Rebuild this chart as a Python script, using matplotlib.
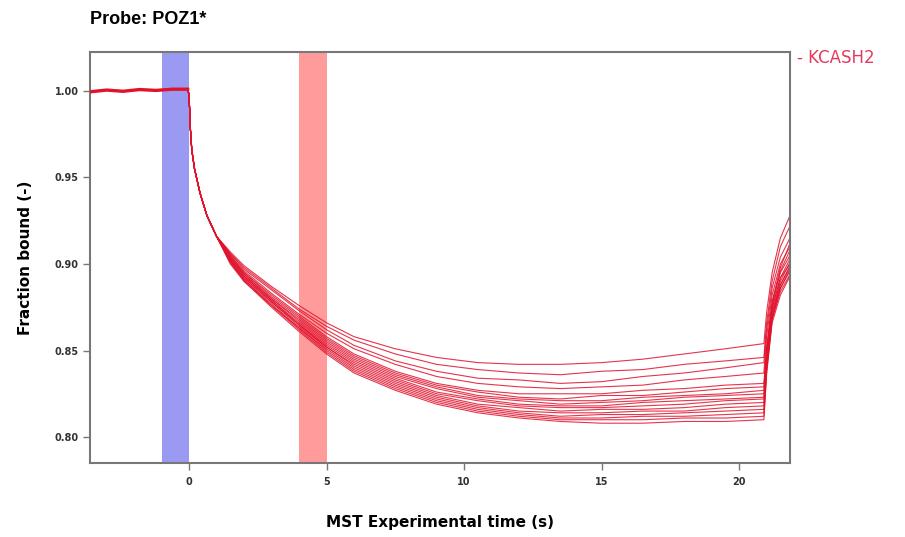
import numpy as np
import matplotlib
matplotlib.use("Agg")
import matplotlib.pyplot as plt

# shared part of every trace: baseline, then the fast drop after the IR laser turns on
early_t = [-3.6, -3.0, -2.4, -1.8, -1.2, -0.6, -0.05, 0.0, 0.05, 0.1, 0.2, 0.4, 0.65, 1.0]
early_y = [0.9995, 1.0005, 0.9998, 1.0008, 1.0003, 1.0010, 1.0010, 0.998, 0.978, 0.966,
           0.955, 0.941, 0.928, 0.916]

# slow thermophoresis part, one row per capillary
late_t = [1.5, 2.0, 3.0, 4.0, 5.0, 6.0, 7.5, 9.0, 10.5, 12.0, 13.5, 15.0, 16.5, 18.0, 19.5, 20.9]
late_y = [
    [0.907, 0.899, 0.887, 0.876, 0.866, 0.858, 0.851, 0.846, 0.843, 0.842, 0.842, 0.843, 0.845, 0.848, 0.851, 0.854],
    [0.906, 0.898, 0.886, 0.874, 0.864, 0.856, 0.848, 0.842, 0.839, 0.837, 0.836, 0.838, 0.839, 0.842, 0.844, 0.846],
    [0.906, 0.897, 0.885, 0.873, 0.862, 0.853, 0.844, 0.838, 0.834, 0.833, 0.831, 0.832, 0.835, 0.837, 0.840, 0.843],
    [0.905, 0.896, 0.883, 0.871, 0.860, 0.851, 0.842, 0.835, 0.831, 0.829, 0.828, 0.829, 0.830, 0.833, 0.835, 0.837],
    [0.905, 0.895, 0.882, 0.870, 0.858, 0.848, 0.838, 0.831, 0.827, 0.825, 0.825, 0.825, 0.827, 0.828, 0.830, 0.831],
    [0.904, 0.895, 0.881, 0.869, 0.857, 0.847, 0.837, 0.830, 0.826, 0.823, 0.822, 0.824, 0.824, 0.826, 0.828, 0.829],
    [0.904, 0.894, 0.880, 0.868, 0.856, 0.846, 0.836, 0.829, 0.824, 0.822, 0.821, 0.821, 0.823, 0.824, 0.825, 0.827],
    [0.903, 0.894, 0.880, 0.867, 0.855, 0.845, 0.835, 0.828, 0.823, 0.821, 0.819, 0.820, 0.821, 0.823, 0.824, 0.825],
    [0.903, 0.893, 0.879, 0.866, 0.854, 0.844, 0.834, 0.826, 0.822, 0.819, 0.818, 0.818, 0.820, 0.821, 0.822, 0.823],
    [0.903, 0.893, 0.879, 0.865, 0.853, 0.843, 0.833, 0.825, 0.821, 0.818, 0.817, 0.817, 0.818, 0.819, 0.821, 0.822],
    [0.902, 0.892, 0.878, 0.865, 0.852, 0.842, 0.832, 0.824, 0.819, 0.817, 0.815, 0.816, 0.816, 0.817, 0.819, 0.820],
    [0.902, 0.892, 0.878, 0.864, 0.852, 0.841, 0.831, 0.823, 0.818, 0.815, 0.814, 0.814, 0.815, 0.815, 0.817, 0.818],
    [0.902, 0.891, 0.877, 0.863, 0.851, 0.840, 0.830, 0.822, 0.817, 0.814, 0.812, 0.813, 0.813, 0.814, 0.815, 0.816],
    [0.901, 0.891, 0.876, 0.863, 0.850, 0.839, 0.829, 0.821, 0.816, 0.813, 0.811, 0.811, 0.812, 0.812, 0.813, 0.814],
    [0.901, 0.890, 0.876, 0.862, 0.849, 0.838, 0.828, 0.820, 0.815, 0.812, 0.810, 0.810, 0.810, 0.811, 0.811, 0.812],
    [0.900, 0.890, 0.875, 0.861, 0.848, 0.837, 0.827, 0.819, 0.814, 0.811, 0.809, 0.808, 0.808, 0.809, 0.809, 0.810],
]

# back-diffusion after the laser turns off
jump_t = [21.0, 21.2, 21.5, 21.85]
jump_y = [
    [0.872, 0.895, 0.915, 0.928],
    [0.866, 0.890, 0.910, 0.922],
    [0.862, 0.886, 0.904, 0.915],
    [0.858, 0.882, 0.900, 0.910],
    [0.852, 0.878, 0.895, 0.905],
    [0.850, 0.875, 0.892, 0.900],
    [0.850, 0.878, 0.898, 0.912],
    [0.846, 0.872, 0.888, 0.898],
    [0.846, 0.874, 0.892, 0.903],
    [0.845, 0.876, 0.896, 0.908],
    [0.843, 0.870, 0.886, 0.896],
    [0.842, 0.872, 0.890, 0.901],
    [0.840, 0.868, 0.884, 0.894],
    [0.840, 0.870, 0.888, 0.899],
    [0.838, 0.866, 0.882, 0.893],
    [0.836, 0.868, 0.886, 0.897],
]

cold_region = (-1.0, 0.0)
hot_region = (4.0, 5.0)
x_ticks = [0, 5, 10, 15, 20]
y_ticks = [0.80, 0.85, 0.90, 0.95, 1.00]

line_color = "#e0122c"
grey = "#777777"

fig = plt.figure(figsize=(9.05, 5.37), dpi=100)
ax = fig.add_axes([90 / 905, 1 - 463 / 537, 700 / 905, 411 / 537])

ax.axvspan(*cold_region, color="#9a9af2", lw=0, zorder=1)
ax.axvspan(*hot_region, color="#ff9b9b", lw=0, zorder=1)

for late, jump in zip(late_y, jump_y):
    t = np.concatenate([early_t, late_t, jump_t])
    y = np.concatenate([early_y, late, jump])
    ax.plot(t, y, color=line_color, lw=0.8, alpha=0.85, zorder=2)

# thick, noisy looking baseline where all traces sit on top of each other
ax.plot(early_t[:7], early_y[:7], color=line_color, lw=2.4, zorder=3)

ax.set_xlim(-3.6, 21.85)
ax.set_ylim(0.785, 1.0225)
ax.set_xticks(x_ticks)
ax.set_yticks(y_ticks)
ax.set_xticklabels([str(v) for v in x_ticks])
ax.set_yticklabels([f"{v:.2f}" for v in y_ticks])
ax.tick_params(axis="both", labelsize=7, colors="#333333", length=5, width=1, pad=3)
ax.tick_params(axis="x", pad=5)
for lbl in ax.get_xticklabels() + ax.get_yticklabels():
    lbl.set_fontweight("bold")
ax.tick_params(axis="both", color=grey)
for side in ax.spines.values():
    side.set_color(grey)
    side.set_linewidth(1.5)

ax.set_xlabel("MST Experimental time (s)", fontsize=11, fontweight="bold", labelpad=20)
ax.set_ylabel("Fraction bound (-)", fontsize=11, fontweight="bold", labelpad=16)

fig.text(90 / 905, 1 - 20 / 537, "Probe: POZ1*", family="Liberation Sans",
         fontsize=13, fontweight="bold", va="center", ha="left")
fig.text(797 / 905, 1 - 58 / 537, "- KCASH2", color="#e33a5d", fontsize=12,
         va="center", ha="left")

fig.savefig("out.png", dpi=100)
